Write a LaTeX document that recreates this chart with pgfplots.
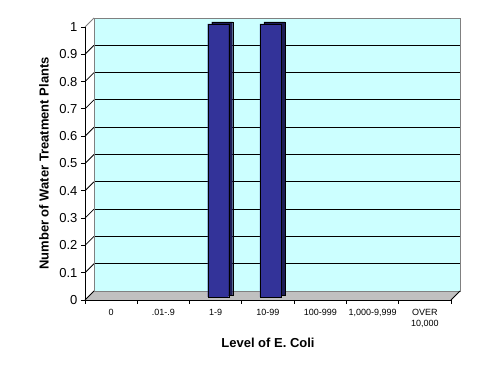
\documentclass[border=0pt]{standalone}
\usepackage{fontspec}
\setmainfont{Liberation Sans}
\usepackage{pgfplots}
\usepackage{pgfplotstable}
\pgfplotsset{compat=1.18}
\definecolor{wall}{HTML}{CCFFFF}
\definecolor{floorc}{HTML}{C0C0C0}
\definecolor{barf}{HTML}{333399}
\definecolor{bars}{HTML}{1C1C55}
\definecolor{edgeg}{HTML}{808080}
\pgfplotstableread{
x y
0 0
1 0
2 1
3 1
4 0
5 0
6 0
}\ecoli
\begin{document}
\begin{tikzpicture}
\useasboundingbox (0,0) rectangle (491pt,374pt);
\begin{axis}[
 at={(85pt,74pt)}, anchor=south west,
 scale only axis, width=366pt, height=273pt,
 xmin=-0.5, xmax=6.5, ymin=0, ymax=1,
 clip=false, axis on top,
 axis lines*=left,
 axis line style={black, line width=0.8pt},
 ytick={0,0.1,0.2,0.3,0.4,0.5,0.6,0.7,0.8,0.9,1},
 yticklabels={0,0.1,0.2,0.3,0.4,0.5,0.6,0.7,0.8,0.9,1},
 xtick={-0.5,0.5,1.5,2.5,3.5,4.5,5.5,6.5},
 x tick label as interval,
 xticklabels={0,.01-.9,1-9,10-99,100-999,{1,000-9,999},{OVER\\10,000}},
 x tick label style={font=\fontsize{9}{11}\selectfont, align=center, yshift=-2pt},
 y tick label style={font=\fontsize{13}{15}\selectfont},
 tick align=outside, major tick length=4pt,
 tick style={black, line width=0.8pt},
 /pgf/number format/assume math mode=true,
 xlabel={Level of E. Coli}, ylabel={Number of Water Treatment Plants},
 label style={font=\bfseries\fontsize{13}{15}\selectfont},
 xlabel style={at={([yshift=-43pt]rel axis cs:0.5,0)}, anchor=center},
 ylabel style={at={([xshift=-41pt]rel axis cs:0,0.5)}, anchor=center},
]
% floor
\fill[floorc] (axis cs:-0.5,0) -- (axis cs:6.5,0) -- ([shift={(9pt,9pt)}]axis cs:6.5,0) -- ([shift={(9pt,9pt)}]axis cs:-0.5,0) -- cycle;
% back wall
\fill[wall] ([shift={(9pt,9pt)}]axis cs:-0.5,0) rectangle ([shift={(9pt,9pt)}]axis cs:6.5,1);
\pgfplotsinvokeforeach{0.1,0.2,0.3,0.4,0.5,0.6,0.7,0.8,0.9}{
  \draw[black, line width=0.8pt] ([shift={(9pt,9pt)}]axis cs:-0.5,#1) -- ([shift={(9pt,9pt)}]axis cs:6.5,#1);
}
\pgfplotsinvokeforeach{0,0.1,0.2,0.3,0.4,0.5,0.6,0.7,0.8,0.9}{
  \draw[black, line width=0.8pt] (axis cs:-0.5,#1) -- ([shift={(9pt,9pt)}]axis cs:-0.5,#1);
}
\draw[edgeg, line width=0.8pt] ([shift={(9pt,9pt)}]axis cs:-0.5,0) rectangle ([shift={(9pt,9pt)}]axis cs:6.5,1);
\draw[edgeg, line width=0.8pt] (axis cs:-0.5,1) -- ([shift={(9pt,9pt)}]axis cs:-0.5,1);
\draw[black, line width=0.8pt] (axis cs:6.5,0) -- ([shift={(9pt,9pt)}]axis cs:6.5,0);
% bars
\addplot[ybar, bar width=21pt, bar shift=0pt, fill=bars, draw=black, xshift=6.5pt, yshift=5pt, restrict y to domain=0.5:2] table[x=x,y=y] {\ecoli};
\addplot[ybar, bar width=21pt, bar shift=0pt, fill=barf, draw=black, xshift=2.5pt, yshift=3pt, restrict y to domain=0.5:2] table[x=x,y=y] {\ecoli};
\end{axis}
\end{tikzpicture}
\end{document}
